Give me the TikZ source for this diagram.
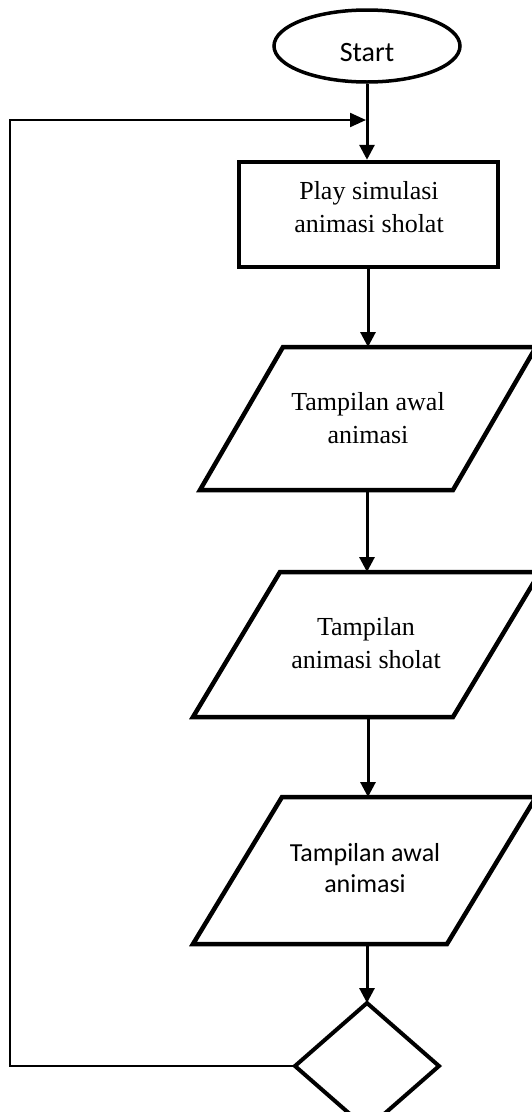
\documentclass[tikz,border=0pt]{standalone}
\usepackage{fontspec}
\setmainfont{Liberation Serif}
\newfontfamily\calfont{Carlito}
\usetikzlibrary{arrows.meta,shapes.geometric}
\begin{document}
\begin{tikzpicture}[x=1pt,y=-1pt,
  conn/.style={line width=3pt,-{Triangle[length=15pt,width=15pt]}},
  outline/.style={draw,line width=4.5pt},
  serif/.style={font=\fontsize{26}{33}\selectfont,align=center,inner sep=0pt},
  sans/.style={font=\calfont\fontsize{26}{31}\selectfont,align=center,inner sep=0pt}]
\useasboundingbox (0,0) rectangle (532,1112);
\clip (0,0) rectangle (532,1112);

% Start
\node[ellipse,draw,line width=3.5pt,minimum width=186pt,minimum height=72pt,inner sep=0pt,
      font=\calfont\fontsize{28}{34}\selectfont] (start) at (367,46)
      {\raisebox{-7pt}[\height][\depth]{Start}};

% Process box
\node[outline,minimum width=259pt,minimum height=105pt,inner sep=0pt] (play) at (368.5,214.5) {};
\node[serif] (playtext) at (369,207) {Play simulasi\\animasi sholat};

% Parallelogram 1
\draw[outline] (283,347) -- (536,347) -- (453,490) -- (200,490) -- cycle;
\coordinate (p1top) at (368,347);
\coordinate (p1bot) at (367,490);
\node[serif] (p1) at (368,418.5) {Tampilan awal\\animasi};

% Parallelogram 2
\draw[outline] (280,572) -- (540,572) -- (453,717) -- (193,717) -- cycle;
\coordinate (p2top) at (367,572);
\coordinate (p2bot) at (368,715);
\node[serif] (p2) at (366,643.5) {Tampilan\\animasi sholat};

% Parallelogram 3
\draw[outline] (282,797) -- (536,797) -- (447,944) -- (193,944) -- cycle;
\coordinate (p3top) at (368,797);
\coordinate (p3bot) at (367,944);
\node[sans] (p3) at (365,868.5) {Tampilan awal\\animasi};

% Decision
\node[diamond,draw,line width=4pt,minimum width=144pt,minimum height=126pt,inner sep=0pt,outer sep=0pt] (dec) at (367,1066) {};

% Connectors
\coordinate (merge) at (366,120);
\coordinate (loopbl) at (10,1066);
\draw[conn] (start.south) -- (start.south |- play.north);
\draw[conn] (play.south -| p1top) -- (p1top);
\draw[conn] (p1bot) -- (p2top);
\draw[conn] (p2bot) -- (p3top);
\draw[conn] (p3bot) -- (dec.north);
\draw[line width=2.2pt,-{Triangle[length=16pt,width=14pt]}] (dec.west) -- (loopbl) |- (merge);
\end{tikzpicture}
\end{document}
